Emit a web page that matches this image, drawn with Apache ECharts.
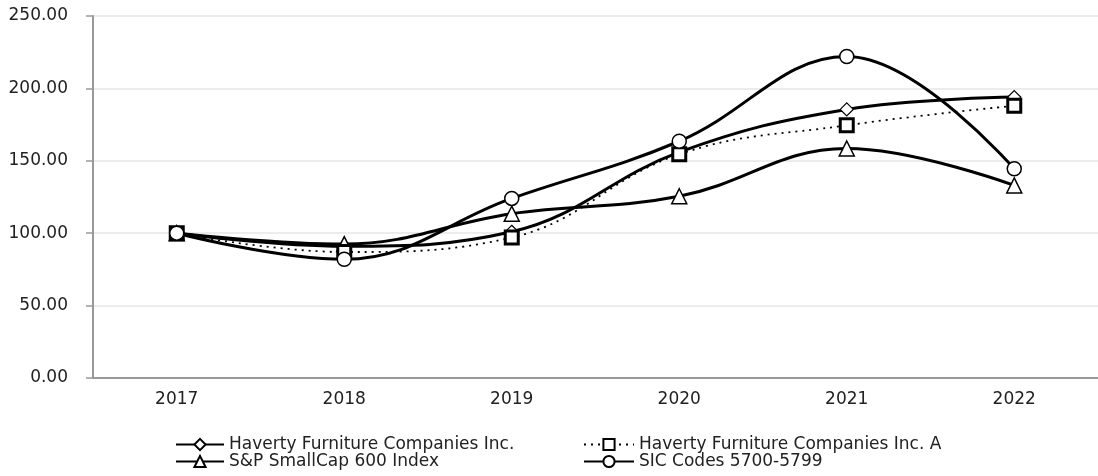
<!DOCTYPE html>
<html>
<head>
<meta charset="utf-8">
<script src="https://cdn.jsdelivr.net/npm/echarts@6/dist/echarts.min.js"></script>
<style>html,body{margin:0;padding:0;background:#fff}#c{width:1098px;height:476px}</style>
</head>
<body>
<div id="c"></div>
<script>
const years = ['2017', '2018', '2019', '2020', '2021', '2022'];
const havertyInc = [100, 91, 101, 156, 185.5, 194];
const havertyA = [100, 87, 97, 154.5, 174.5, 188];
const sp600 = [100, 92.5, 113.5, 125.5, 158.5, 133];
const sic = [100, 82, 124, 163.5, 222, 144.5];
const yTicks = [0, 50, 100, 150, 200, 250];

const FONT = '"DejaVu Sans", Verdana, sans-serif';
const chart = echarts.init(document.getElementById('c'), null, {renderer: 'canvas'});

function ser(name, data, symbol, size, lineStyle, borderW) {
  return {
    name, type: 'line', data, smooth: 0.4, symbol, symbolSize: size,
    showAllSymbol: true,
    lineStyle: Object.assign({color: '#000'}, lineStyle),
    itemStyle: {color: '#fff', borderColor: '#000', borderWidth: borderW},
    emphasis: {disabled: true}, animation: false
  };
}

const legendText = {fontFamily: FONT, fontSize: 17, color: '#222', lineHeight: 17};

chart.setOption({
  animation: false,
  textStyle: {fontFamily: FONT},
  grid: {left: 93, top: 16, width: 1016, height: 362, containLabel: false},
  xAxis: {
    type: 'category', data: years, boundaryGap: true,
    axisLine: {lineStyle: {color: '#999', width: 2}},
    axisTick: {alignWithLabel: true, length: 6, lineStyle: {color: '#999', width: 1.5}},
    axisLabel: {color: '#222', fontSize: 17, fontFamily: FONT, margin: 13},
    splitLine: {show: false}
  },
  yAxis: {
    type: 'value', min: yTicks[0], max: yTicks[yTicks.length - 1], interval: 50,
    axisLine: {show: true, lineStyle: {color: '#999', width: 2}},
    axisTick: {show: true, length: 7, lineStyle: {color: '#999', width: 1.5}},
    axisLabel: {color: '#222', fontSize: 17, fontFamily: FONT, margin: 25,
      formatter: v => v.toFixed(2)},
    splitLine: {lineStyle: {color: '#e6e6e6', width: 1.5}}
  },
  legend: [
    {
      left: 170, top: 431, orient: 'vertical', itemWidth: 48, itemHeight: 14, itemGap: 0,
      textStyle: legendText,
      data: ['Haverty Furniture Companies Inc.', 'S&P SmallCap 600 Index']
    },
    {
      left: 578, top: 431, orient: 'vertical', itemWidth: 50, itemHeight: 14, itemGap: 0,
      textStyle: legendText,
      data: ['Haverty Furniture Companies Inc. A', 'SIC Codes 5700-5799']
    }
  ],
  series: [
    ser('Haverty Furniture Companies Inc.', havertyInc, 'diamond', 13, {width: 3}, 1.2),
    ser('S&P SmallCap 600 Index', sp600, 'triangle', 15, {width: 3}, 1.5),
    ser('Haverty Furniture Companies Inc. A', havertyA, 'rect', 13, {width: 1.8, type: [2, 5]}, 3),
    ser('SIC Codes 5700-5799', sic, 'circle', 14, {width: 3}, 1.5)
  ]
});
</script>
</body>
</html>
